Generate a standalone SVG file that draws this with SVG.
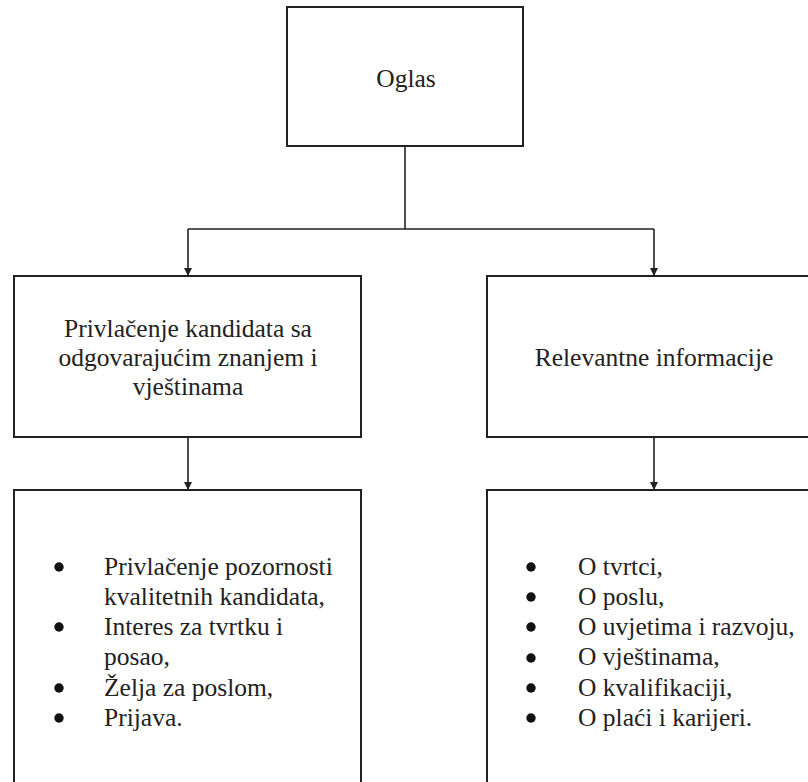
<svg xmlns="http://www.w3.org/2000/svg" width="808" height="782" viewBox="0 0 808 782">
<defs>
<marker id="arr" viewBox="0 0 10 10" refX="10" refY="5" markerWidth="8" markerHeight="10" markerUnits="userSpaceOnUse" orient="auto">
<path d="M0,0 L10,5 L0,10 z" fill="#222"/>
</marker>
<style>
.box{fill:#fff;stroke:#222;stroke-width:2}
.ln{fill:none;stroke:#222;stroke-width:1.6}
.dot{fill:#111}
</style>
</defs>
<rect width="808" height="782" fill="#fff"/>
<g id="connectors">
<path class="ln" d="M405,146 V229"/>
<path class="ln" d="M188,229 H654"/>
<path class="ln" d="M188,229 V276" marker-end="url(#arr)"/>
<path class="ln" d="M654,229 V276" marker-end="url(#arr)"/>
<path class="ln" d="M188,437 V490" marker-end="url(#arr)"/>
<path class="ln" d="M654,437 V490" marker-end="url(#arr)"/>
</g>
<g id="oglas">
<rect class="box" x="287" y="7" width="236" height="139"/>
<text font-family="Liberation Serif" font-size="25.5" fill="#222" text-anchor="middle" x="406" y="87">Oglas</text>
</g>
<g id="privlacenje">
<rect class="box" x="14" y="276" width="347" height="161"/>
<text font-family="Liberation Serif" font-size="25.5" fill="#222" text-anchor="middle" x="188" y="337">Privlačenje kandidata sa</text>
<text font-family="Liberation Serif" font-size="25.5" fill="#222" text-anchor="middle" x="188" y="366">odgovarajućim znanjem i</text>
<text font-family="Liberation Serif" font-size="25.5" fill="#222" text-anchor="middle" x="188" y="395">vještinama</text>
</g>
<g id="relevantne">
<rect class="box" x="487" y="276" width="330" height="161"/>
<text font-family="Liberation Serif" font-size="25.5" fill="#222" text-anchor="middle" x="654" y="366">Relevantne informacije</text>
</g>
<g id="lista-lijevo">
<rect class="box" x="14" y="490" width="347" height="300"/>
<circle class="dot" cx="59" cy="567" r="4.7"/>
<circle class="dot" cx="59" cy="627" r="4.7"/>
<circle class="dot" cx="59" cy="688" r="4.7"/>
<circle class="dot" cx="59" cy="718" r="4.7"/>
<text font-family="Liberation Serif" font-size="25.5" fill="#222" x="104" y="575">Privlačenje pozornosti</text>
<text font-family="Liberation Serif" font-size="25.5" fill="#222" x="104" y="605">kvalitetnih kandidata,</text>
<text font-family="Liberation Serif" font-size="25.5" fill="#222" x="104" y="635">Interes za tvrtku i</text>
<text font-family="Liberation Serif" font-size="25.5" fill="#222" x="104" y="665">posao,</text>
<text font-family="Liberation Serif" font-size="25.5" fill="#222" x="104" y="696">Želja za poslom,</text>
<text font-family="Liberation Serif" font-size="25.5" fill="#222" x="104" y="726">Prijava.</text>
</g>
<g id="lista-desno">
<rect class="box" x="487" y="490" width="330" height="300"/>
<circle class="dot" cx="531" cy="567" r="4.7"/>
<circle class="dot" cx="531" cy="597" r="4.7"/>
<circle class="dot" cx="531" cy="627" r="4.7"/>
<circle class="dot" cx="531" cy="658" r="4.7"/>
<circle class="dot" cx="531" cy="688" r="4.7"/>
<circle class="dot" cx="531" cy="718" r="4.7"/>
<text font-family="Liberation Serif" font-size="25.5" fill="#222" x="578" y="575">O tvrtci,</text>
<text font-family="Liberation Serif" font-size="25.5" fill="#222" x="578" y="605">O poslu,</text>
<text font-family="Liberation Serif" font-size="25.5" fill="#222" x="578" y="635">O uvjetima i razvoju,</text>
<text font-family="Liberation Serif" font-size="25.5" fill="#222" x="578" y="665">O vještinama,</text>
<text font-family="Liberation Serif" font-size="25.5" fill="#222" x="578" y="696">O kvalifikaciji,</text>
<text font-family="Liberation Serif" font-size="25.5" fill="#222" x="578" y="726">O plaći i karijeri.</text>
</g>
</svg>
